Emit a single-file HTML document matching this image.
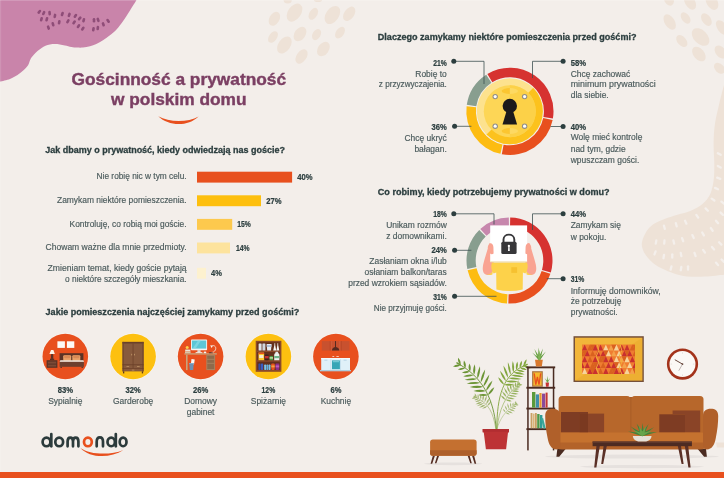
<!DOCTYPE html>
<html lang="pl"><head><meta charset="utf-8"><title>Gościnność a prywatność w polskim domu</title>
<style>
html,body{margin:0;padding:0;background:#f3eeea;}
body{width:724px;height:478px;overflow:hidden;font-family:"Liberation Sans",sans-serif;}
svg{display:block;position:absolute;left:0;top:0;will-change:transform;}
text{font-family:"Liberation Sans",sans-serif;}
.h{font-weight:700;fill:#2c3e3f;font-size:9px;stroke:#2c3e3f;stroke-width:.3px;}
.b{fill:#4b5b5c;font-size:8.2px;stroke:#4b5b5c;stroke-width:.16px;}
.p{font-weight:700;fill:#2c3e3f;font-size:8.5px;stroke:#2c3e3f;stroke-width:.22px;}
.t{font-weight:700;fill:#7b3f63;font-size:16.4px;stroke:#7b3f63;stroke-width:.4px;}
</style></head><body>
<svg width="724" height="478" viewBox="0 0 724 478">
<rect width="724" height="478" fill="#f3eeea"/>

<!-- decor -->
<path d="M136.5,0 C135.4,1.8 132.3,6.9 130,10.5 C127.7,14.1 125.0,18.3 122.8,21.5 C120.5,24.7 118.7,27.1 116.5,29.5 C114.3,31.9 111.8,33.8 109.6,35.6 C107.3,37.4 105.2,38.8 103,40.2 C100.8,41.6 98.5,42.9 96.3,43.9 C94.1,44.9 92.2,45.6 90,46.2 C87.8,46.8 85.2,47.4 83,47.6 C80.8,47.8 78.9,47.7 77,47.6 C75.1,47.5 73.4,47.3 71.4,46.9 C69.4,46.5 66.9,45.8 65,45.4 C63.1,45.0 61.5,44.6 59.8,44.4 C58.1,44.2 56.6,44.0 55,44 C53.4,44.0 51.5,44.1 49.9,44.4 C48.3,44.7 46.9,45.2 45.5,45.8 C44.1,46.4 42.9,47.1 41.6,48 C40.3,48.9 38.8,49.9 37.5,51 C36.2,52.1 35.1,53.2 34,54.5 C32.9,55.8 31.7,57.0 30.7,58.8 C29.7,60.5 29.3,63.1 28.2,65 C27.1,66.9 25.6,68.3 23.8,70 C22.0,71.7 19.8,73.5 17.5,75 C15.2,76.5 12.9,77.8 10,78.9 C7.1,80.0 1.7,81.1 0,81.6 L0,0 Z" fill="#c984aa"/>
<g fill="#8f4d78">
<rect x="38.0" y="9.5" width="2.6" height="4.6" rx="1.3" transform="rotate(40 39.3 11.8)"/>
<rect x="42.4" y="10.8" width="2.6" height="4.6" rx="1.3" transform="rotate(25 43.7 13.1)"/>
<rect x="48.3" y="10.8" width="2.6" height="4.6" rx="1.3" transform="rotate(-5 49.6 13.1)"/>
<rect x="53.6" y="13.6" width="2.6" height="4.6" rx="1.3" transform="rotate(10 54.9 15.9)"/>
<rect x="61.0" y="11.7" width="2.6" height="4.6" rx="1.3" transform="rotate(20 62.3 14)"/>
<rect x="67.9" y="12.6" width="2.6" height="4.6" rx="1.3" transform="rotate(20 69.2 14.9)"/>
<rect x="74.1" y="13.6" width="2.6" height="4.6" rx="1.3" transform="rotate(35 75.4 15.9)"/>
<rect x="78.4" y="16.1" width="2.6" height="4.6" rx="1.3" transform="rotate(40 79.7 18.4)"/>
<rect x="82.4" y="17.9" width="2.6" height="4.6" rx="1.3" transform="rotate(15 83.7 20.2)"/>
<rect x="40.1" y="17.0" width="2.6" height="4.6" rx="1.3" transform="rotate(15 41.4 19.3)"/>
<rect x="45.5" y="17.0" width="2.6" height="4.6" rx="1.3" transform="rotate(15 46.8 19.3)"/>
<rect x="51.7" y="22.0" width="2.6" height="4.6" rx="1.3" transform="rotate(-15 53 24.3)"/>
<rect x="47.1" y="25.3" width="2.6" height="4.6" rx="1.3" transform="rotate(-20 48.4 27.6)"/>
<rect x="57.9" y="19.9" width="2.6" height="4.6" rx="1.3" transform="rotate(10 59.2 22.2)"/>
<rect x="66.6" y="18.9" width="2.6" height="4.6" rx="1.3" transform="rotate(30 67.9 21.2)"/>
<rect x="72.8" y="20.1" width="2.6" height="4.6" rx="1.3" transform="rotate(35 74.1 22.4)"/>
<rect x="77.2" y="23.8" width="2.6" height="4.6" rx="1.3" transform="rotate(35 78.5 26.1)"/>
<rect x="81.5" y="26.3" width="2.6" height="4.6" rx="1.3" transform="rotate(35 82.8 28.6)"/>
<rect x="92.7" y="17.9" width="2.6" height="4.6" rx="1.3" transform="rotate(0 94 20.2)"/>
<rect x="96.8" y="17.6" width="2.6" height="4.6" rx="1.3" transform="rotate(-20 98.1 19.9)"/>
<rect x="102.0" y="22.0" width="2.6" height="4.6" rx="1.3" transform="rotate(-20 103.3 24.3)"/>
<rect x="106.8" y="18.6" width="2.6" height="4.6" rx="1.3" transform="rotate(-35 108.1 20.9)"/>
<rect x="92.1" y="26.9" width="2.6" height="4.6" rx="1.3" transform="rotate(10 93.4 29.2)"/>
<rect x="96.5" y="25.7" width="2.6" height="4.6" rx="1.3" transform="rotate(5 97.8 28)"/>
</g>
<g fill="#eee2d7">
<ellipse cx="274.4" cy="18.8" rx="5" ry="7.5" transform="rotate(30 274.4 18.8)"/>
<ellipse cx="294.5" cy="12.6" rx="6.5" ry="10" transform="rotate(35 294.5 12.6)"/>
<ellipse cx="313.3" cy="13.8" rx="4" ry="6.5" transform="rotate(30 313.3 13.8)"/>
<ellipse cx="332.4" cy="15" rx="6.5" ry="10" transform="rotate(35 332.4 15)"/>
<ellipse cx="349.2" cy="13.8" rx="5" ry="8" transform="rotate(35 349.2 13.8)"/>
<ellipse cx="273" cy="37" rx="4" ry="6.5" transform="rotate(35 273 37)"/>
<ellipse cx="284.4" cy="45" rx="6" ry="9.5" transform="rotate(35 284.4 45)"/>
<ellipse cx="300" cy="34" rx="5.5" ry="8" transform="rotate(35 300 34)"/>
<ellipse cx="316.6" cy="34.6" rx="4" ry="6" transform="rotate(30 316.6 34.6)"/>
<ellipse cx="340" cy="32.6" rx="4" ry="6.5" transform="rotate(35 340 32.6)"/>
<ellipse cx="323.4" cy="49" rx="5.5" ry="8" transform="rotate(35 323.4 49)"/>
<ellipse cx="301.5" cy="56.5" rx="5" ry="8" transform="rotate(35 301.5 56.5)"/>
<ellipse cx="287.7" cy="0.5" rx="4" ry="3" transform="rotate(0 287.7 0.5)"/>
<ellipse cx="318" cy="0" rx="4" ry="2" transform="rotate(0 318 0)"/>
<ellipse cx="669" cy="0" rx="4.5" ry="6" transform="rotate(-30 669 0)"/>
<ellipse cx="690" cy="2" rx="5" ry="8.5" transform="rotate(-30 690 2)"/>
<ellipse cx="712" cy="2" rx="5.5" ry="8.5" transform="rotate(-30 712 2)"/>
<ellipse cx="669.7" cy="22" rx="5" ry="8.6" transform="rotate(-32 669.7 22)"/>
<ellipse cx="685.6" cy="18" rx="4" ry="6.4" transform="rotate(-35 685.6 18)"/>
<ellipse cx="706.4" cy="19.6" rx="4.4" ry="7" transform="rotate(-35 706.4 19.6)"/>
<ellipse cx="722" cy="27.6" rx="4.6" ry="8.4" transform="rotate(-35 722 27.6)"/>
<ellipse cx="681.8" cy="41" rx="4.4" ry="7" transform="rotate(-40 681.8 41)"/>
<ellipse cx="700.6" cy="37" rx="6.8" ry="10.5" transform="rotate(-45 700.6 37)"/>
<ellipse cx="698.9" cy="54" rx="5.4" ry="8.4" transform="rotate(-40 698.9 54)"/>
<ellipse cx="720.7" cy="52" rx="5" ry="7.4" transform="rotate(-40 720.7 52)"/>
<ellipse cx="719.5" cy="68.3" rx="4.4" ry="6.4" transform="rotate(-45 719.5 68.3)"/>
<path d="M724,85 C723.2,88.1 720.8,97.1 719.3,103.5 C717.8,109.9 716.0,116.9 715,123.6 C714.0,130.3 713.7,137.0 713.6,143.7 C713.5,150.4 714.3,157.8 714.3,163.9 C714.3,170.1 714.3,175.6 713.6,180.6 C712.9,185.6 712.1,190.1 710.3,194 C708.4,197.9 705.8,201.2 702.5,204 C699.2,206.8 695.0,209.0 690.8,210.8 C686.6,212.6 681.9,213.4 677.4,214.8 C672.9,216.2 667.7,217.8 664,219.2 C660.3,220.6 657.5,221.7 655,223.2 C652.5,224.7 650.8,226.0 649,228 C647.2,230.0 645.7,232.4 644.5,235 C643.3,237.6 642.0,240.9 641.8,243.5 C641.6,246.1 642.4,248.4 643.2,250.5 C644.0,252.6 644.9,253.9 646.5,256 C648.1,258.1 650.4,260.9 653,263 C655.6,265.1 658.5,266.9 662,268.6 C665.5,270.4 669.8,272.2 674,273.5 C678.2,274.8 681.8,275.9 687,276.4 C692.2,276.9 698.8,276.9 705,276.6 C711.2,276.3 720.8,275.1 724,274.8 Z"/>
<path d="M716,442.5 H724 V447.6 H717 Z"/>
</g>
<g fill="#f4efeb">
<rect x="663.2" y="224.4" width="2.3" height="5.6" rx="1.15" transform="rotate(-15 664.4 227.2)"/>
<rect x="675.1" y="221.9" width="2.3" height="5.6" rx="1.15" transform="rotate(-15 676.3 224.7)"/>
<rect x="684.6" y="219.4" width="2.3" height="5.6" rx="1.15" transform="rotate(-25 685.7 222.2)"/>
<rect x="696.1" y="213.4" width="2.3" height="5.6" rx="1.15" transform="rotate(-35 697.3 216.2)"/>
<rect x="705.6" y="206.8" width="2.3" height="5.6" rx="1.15" transform="rotate(-45 706.7 209.6)"/>
<rect x="711.9" y="196.8" width="2.3" height="5.6" rx="1.15" transform="rotate(-55 713 199.6)"/>
<rect x="715.4" y="185.8" width="2.3" height="5.6" rx="1.15" transform="rotate(-65 716.5 188.6)"/>
<rect x="717.6" y="175.5" width="2.3" height="5.6" rx="1.15" transform="rotate(-70 718.7 178.3)"/>
<rect x="718.1" y="163.9" width="2.3" height="5.6" rx="1.15" transform="rotate(-60 719.3 166.7)"/>
<rect x="718.1" y="151.2" width="2.3" height="5.6" rx="1.15" transform="rotate(-60 719.3 154)"/>
<rect x="654.9" y="239.2" width="2.3" height="5.6" rx="1.15" transform="rotate(10 656 242)"/>
<rect x="663.2" y="239.2" width="2.3" height="5.6" rx="1.15" transform="rotate(5 664.4 242)"/>
<rect x="672.6" y="239.2" width="2.3" height="5.6" rx="1.15" transform="rotate(-15 673.8 242)"/>
<rect x="681.5" y="236.9" width="2.3" height="5.6" rx="1.15" transform="rotate(-20 682.6 239.7)"/>
<rect x="691.9" y="233.8" width="2.3" height="5.6" rx="1.15" transform="rotate(-25 693 236.6)"/>
<rect x="701.9" y="231.2" width="2.3" height="5.6" rx="1.15" transform="rotate(-30 703 234)"/>
<rect x="710.6" y="226.6" width="2.3" height="5.6" rx="1.15" transform="rotate(-35 711.8 229.4)"/>
<rect x="715.9" y="219.2" width="2.3" height="5.6" rx="1.15" transform="rotate(-40 717 222)"/>
<rect x="720.6" y="210.9" width="2.3" height="5.6" rx="1.15" transform="rotate(-45 721.8 213.7)"/>
<rect x="721.6" y="199.9" width="2.3" height="5.6" rx="1.15" transform="rotate(-50 722.7 202.7)"/>
<rect x="653.9" y="250.1" width="2.3" height="5.6" rx="1.15" transform="rotate(20 655 252.9)"/>
<rect x="662.6" y="253.8" width="2.3" height="5.6" rx="1.15" transform="rotate(10 663.8 256.6)"/>
<rect x="671.1" y="253.2" width="2.3" height="5.6" rx="1.15" transform="rotate(0 672.3 256)"/>
<rect x="679.9" y="251.7" width="2.3" height="5.6" rx="1.15" transform="rotate(-10 681 254.5)"/>
<rect x="693.9" y="251.7" width="2.3" height="5.6" rx="1.15" transform="rotate(-20 695 254.5)"/>
<rect x="702.9" y="248.5" width="2.3" height="5.6" rx="1.15" transform="rotate(-35 704 251.3)"/>
<rect x="711.9" y="245.4" width="2.3" height="5.6" rx="1.15" transform="rotate(-40 713 248.2)"/>
<rect x="719.1" y="240.7" width="2.3" height="5.6" rx="1.15" transform="rotate(-45 720.2 243.5)"/>
<rect x="669.9" y="265.2" width="2.3" height="5.6" rx="1.15" transform="rotate(15 671 268)"/>
<rect x="679.9" y="265.8" width="2.3" height="5.6" rx="1.15" transform="rotate(10 681 268.6)"/>
<rect x="686.9" y="265.2" width="2.3" height="5.6" rx="1.15" transform="rotate(0 688 268)"/>
<rect x="715.9" y="261.1" width="2.3" height="5.6" rx="1.15" transform="rotate(-40 717 263.9)"/>
<rect x="721.6" y="257.9" width="2.3" height="5.6" rx="1.15" transform="rotate(-45 722.7 260.7)"/>
</g>
<rect x="0" y="0" width="724" height="0.9" fill="#ffffff" opacity=".2"/><rect x="0" y="0" width="1.2" height="478" fill="#ffffff" opacity=".12"/>
<rect x="0" y="472" width="724" height="6" fill="#e8501e"/>
<!-- title -->
<text x="178.8" y="84.6" class="t" text-anchor="middle" textLength="214.5" lengthAdjust="spacingAndGlyphs">Gościnność a prywatność</text>
<text x="178.8" y="104.6" class="t" text-anchor="middle" textLength="135.5" lengthAdjust="spacingAndGlyphs">w polskim domu</text>
<path d="M158.2,116.2 C169,122.6 188,122.6 198.6,116.4 C188,126.6 169,126.6 158.2,116.2 Z" fill="#e8501e"/>
<!-- bar chart -->
<text x="45.3" y="152.8" class="h" text-anchor="start" textLength="239.6" lengthAdjust="spacingAndGlyphs">Jak dbamy o prywatność, kiedy odwiedzają nas goście?</text>
<rect x="197" y="171.7" width="95.1" height="10.9" fill="#e8501e"/>
<text x="297.3" y="180.0" class="p" text-anchor="start" textLength="15.3" lengthAdjust="spacingAndGlyphs">40%</text>
<rect x="197" y="195.3" width="64.0" height="10.9" fill="#fdbf0e"/>
<text x="266.2" y="203.60000000000002" class="p" text-anchor="start" textLength="15.3" lengthAdjust="spacingAndGlyphs">27%</text>
<rect x="197" y="218.9" width="35.2" height="10.9" fill="#fdc94d"/>
<text x="237.2" y="227.20000000000002" class="p" text-anchor="start" textLength="13.6" lengthAdjust="spacingAndGlyphs">15%</text>
<rect x="197" y="242.5" width="33.0" height="10.9" fill="#fde39d"/>
<text x="236" y="250.8" class="p" text-anchor="start" textLength="13.6" lengthAdjust="spacingAndGlyphs">14%</text>
<rect x="197" y="267.8" width="9.0" height="10.9" fill="#fdf1cf"/>
<text x="211" y="276.1" class="p" text-anchor="start" textLength="10.9" lengthAdjust="spacingAndGlyphs">4%</text>
<text x="186.6" y="179.3" class="b" text-anchor="end" textLength="90" lengthAdjust="spacingAndGlyphs">Nie robię nic w tym celu.</text>
<text x="186.6" y="202.9" class="b" text-anchor="end" textLength="129.6" lengthAdjust="spacingAndGlyphs">Zamykam niektóre pomieszczenia.</text>
<text x="186.6" y="226.5" class="b" text-anchor="end" textLength="117" lengthAdjust="spacingAndGlyphs">Kontroluję, co robią moi goście.</text>
<text x="186.6" y="250.1" class="b" text-anchor="end" textLength="141" lengthAdjust="spacingAndGlyphs">Chowam ważne dla mnie przedmioty.</text>
<text x="186.6" y="270.9" class="b" text-anchor="end" textLength="139" lengthAdjust="spacingAndGlyphs">Zmieniam temat, kiedy goście pytają</text>
<text x="186.6" y="281.5" class="b" text-anchor="end" textLength="121.5" lengthAdjust="spacingAndGlyphs">o niektóre szczegóły mieszkania.</text>
<!-- rooms -->
<text x="45.6" y="315.2" class="h" text-anchor="start" textLength="253.7" lengthAdjust="spacingAndGlyphs">Jakie pomieszczenia najczęściej zamykamy przed gośćmi?</text>
<circle cx="65.3" cy="356.5" r="23.4" fill="#f8f5f2"/>
<circle cx="65.3" cy="356.5" r="22.8" fill="#e8501e"/>
<circle cx="133.1" cy="356.5" r="23.4" fill="#f8f5f2"/>
<circle cx="133.1" cy="356.5" r="22.8" fill="#fdc010"/>
<circle cx="200.6" cy="356.5" r="23.4" fill="#f8f5f2"/>
<circle cx="200.6" cy="356.5" r="22.8" fill="#e8501e"/>
<circle cx="268.4" cy="356.5" r="23.4" fill="#f8f5f2"/>
<circle cx="268.4" cy="356.5" r="22.8" fill="#fdc010"/>
<circle cx="335.9" cy="356.5" r="23.4" fill="#f8f5f2"/>
<circle cx="335.9" cy="356.5" r="22.8" fill="#e8501e"/>
<g>
<rect x="57.4" y="341.3" width="7.5" height="6.6" fill="#fdfaf6"/><rect x="66.9" y="341.3" width="7.4" height="6.6" fill="#fdfaf6"/>
<path d="M51,349.9 H53.4 L54.8,354 H49.4 Z" fill="#fdf3e6"/><rect x="50.9" y="354" width="2.4" height="5" rx="1" fill="#5a3326"/><rect x="50" y="358.6" width="4.2" height="1.6" fill="#5a3326"/>
<rect x="46.6" y="360.2" width="10.8" height="7.6" fill="#5a3326"/><rect x="47.8" y="361.6" width="8.4" height="2" fill="#7d4a35"/><rect x="47.8" y="364.6" width="8.4" height="2" fill="#7d4a35"/>
<rect x="59.6" y="353.2" width="23.8" height="8" fill="#5a3326"/>
<rect x="63.2" y="355.2" width="8" height="5.5" rx="1" fill="#e9a268"/><rect x="72.3" y="355.2" width="8" height="5.5" rx="1" fill="#e9a268"/>
<rect x="64.2" y="355.2" width="6" height="3" rx="1" fill="#d98a55"/><rect x="73.3" y="355.2" width="6" height="3" rx="1" fill="#d98a55"/>
<rect x="59.8" y="360.2" width="24.1" height="2.2" rx="1" fill="#f6ebe0"/>
<rect x="59.6" y="361.8" width="24.3" height="5" fill="#6d3f2e"/><rect x="60.4" y="366.8" width="1.6" height="1.1" fill="#5a3326"/><rect x="81.5" y="366.8" width="1.6" height="1.1" fill="#5a3326"/>
</g>
<g>
<rect x="122.5" y="341.9" width="21.1" height="29.5" fill="#875a3d"/>
<rect x="122.5" y="341.9" width="21.1" height="1.6" fill="#6a4029"/>
<rect x="122.5" y="341.9" width="1.2" height="29.5" fill="#70462e"/><rect x="142.4" y="341.9" width="1.2" height="29.5" fill="#70462e"/>
<rect x="132.7" y="343.5" width="0.7" height="21.3" fill="#6a4029"/>
<rect x="122.5" y="364.4" width="21.1" height="0.8" fill="#6a4029"/><rect x="122.5" y="368" width="21.1" height="0.7" fill="#6a4029"/><rect x="132.7" y="364.8" width="0.7" height="3.4" fill="#6a4029"/>
<rect x="131.3" y="353.8" width="0.8" height="1.6" fill="#c59a6b"/><rect x="134" y="353.8" width="0.8" height="1.6" fill="#c59a6b"/>
<rect x="126.5" y="366.2" width="2.6" height="0.7" fill="#c59a6b"/><rect x="137" y="366.2" width="2.6" height="0.7" fill="#c59a6b"/><rect x="131.8" y="369.7" width="2.6" height="0.7" fill="#c59a6b"/>
<rect x="123" y="371.4" width="1.3" height="2" fill="#5d3622"/><rect x="141.8" y="371.4" width="1.3" height="2" fill="#5d3622"/>
</g>
<g>
<rect x="191" y="339.6" width="16.1" height="10.6" rx="0.8" fill="#f4f4f2"/><rect x="191.9" y="340.5" width="14.3" height="8.1" fill="#5cc6d6"/>
<path d="M193,348 L198,340.5 H201 L196,348 Z" fill="#8adbe6" opacity=".7"/>
<rect x="197.4" y="350.2" width="3.2" height="2.2" fill="#e2e2e0"/><rect x="195.6" y="352.2" width="6.8" height="1" fill="#f4f4f2"/>
<rect x="184.4" y="353.2" width="32.4" height="1.4" fill="#c9a27a"/>
<rect x="186" y="354.6" width="1.6" height="15.5" fill="#c9a27a"/>
<rect x="206.3" y="354.6" width="8.8" height="15.5" fill="#a8825f"/>
<rect x="207.3" y="355.8" width="6.8" height="3" fill="#8e6a4b"/><rect x="207.3" y="359.8" width="6.8" height="3" fill="#8e6a4b"/><rect x="207.3" y="363.8" width="6.8" height="5.2" fill="#8e6a4b"/>
<rect x="185.2" y="349.6" width="5.2" height="1.8" fill="#f0e6da"/><rect x="185" y="351.4" width="5.6" height="1.8" fill="#d9c4a8"/><circle cx="187.2" cy="347.6" r="1.5" fill="#fdd34a"/><rect x="186.5" y="348.6" width="1.4" height="1.2" fill="#c9a27a"/>
<path d="M211.2,352.6 C217.5,352 217,344 211.4,345.8" fill="none" stroke="#f6efe8" stroke-width="0.8"/><path d="M210.2,345 L212.8,346.2 L211.4,348 Z" fill="#f6efe8"/><rect x="208.8" y="352.2" width="4" height="1" rx=".5" fill="#5a3326"/>
<ellipse cx="205" cy="352.4" rx="1.4" ry=".8" fill="#f4f4f2"/>
<rect x="191.2" y="359.2" width="3.2" height="5" fill="#fdfaf6" transform="rotate(8 192.8 361.5)"/>
<path d="M189.3,363.4 H193.7 L193.2,370.1 H189.8 Z" fill="#6d92b5"/><rect x="189.1" y="363" width="4.8" height="1" fill="#89abc9"/>
</g>
<g>
<rect x="255.7" y="340.8" width="25.7" height="31" fill="#8b4a2a"/>
<rect x="257.2" y="342.3" width="22.7" height="8.2" fill="#63301c"/><rect x="257.2" y="352" width="22.7" height="8.2" fill="#63301c"/><rect x="257.2" y="361.7" width="22.7" height="8.2" fill="#63301c"/>
<rect x="258.6" y="343.4" width="3" height="7.1" rx=".5" fill="#dfe4ea"/><rect x="262.4" y="343.4" width="3" height="7.1" rx=".5" fill="#cfd6de"/>
<path d="M266.6,344 H271.6 L271,350.5 H267.2 Z" fill="#e8ecf1"/><rect x="266.6" y="345.2" width="5" height="1.6" fill="#9fb4d0"/>
<path d="M273.2,350.5 L274.4,345 V343.2 H275.2 V345 L276.2,350.5 Z" fill="#f6f6f4"/><path d="M276.4,350.5 L277.4,345 V343.2 H278.2 V345 L279.3,350.5 Z" fill="#f6f6f4"/>
<rect x="258.5" y="352.6" width="5.6" height="7.6" fill="#fdc62c"/><rect x="259.2" y="355" width="4.2" height="3" fill="#f5ead2"/><rect x="258.5" y="352.6" width="5.6" height="1.4" fill="#e8501e"/>
<rect x="265" y="354.4" width="3.6" height="5.8" rx=".6" fill="#3b2320"/><rect x="265" y="356" width="3.6" height="2.4" fill="#c8312f"/>
<rect x="269.6" y="356" width="3.4" height="4.2" rx=".5" fill="#4c9a46"/><rect x="269.6" y="357.2" width="3.4" height="1.4" fill="#cfe2b0"/>
<path d="M274.2,360.2 V355 C274.2,352 279.4,352 279.4,355 V360.2 Z" fill="#eef2ee"/><rect x="274.2" y="356" width="5.2" height="2.2" fill="#6fb68a"/><rect x="275.4" y="351.8" width="2.8" height="1.4" rx=".5" fill="#dfe4ea"/>
<rect x="258.4" y="363.4" width="2.2" height="6.5" rx=".7" fill="#2f4fa8"/><rect x="261" y="363.4" width="2.2" height="6.5" rx=".7" fill="#3a5cc0"/>
<rect x="264.2" y="364.6" width="1.9" height="5.3" rx=".6" fill="#7cc4ea"/><rect x="266.4" y="364.6" width="1.9" height="5.3" rx=".6" fill="#5eb0e0"/><rect x="268.6" y="364.6" width="1.9" height="5.3" rx=".6" fill="#7cc4ea"/>
<rect x="271.3" y="363.4" width="3.4" height="6.5" rx=".8" fill="#e8501e"/><rect x="271.3" y="365.4" width="3.4" height="2" fill="#f5a040"/>
<rect x="275.6" y="363.4" width="3.6" height="6.5" rx=".8" fill="#8b2f8a"/><rect x="275.6" y="365.4" width="3.6" height="2" fill="#c05cb8"/>
</g>
<g>
<rect x="321.8" y="341.1" width="27.7" height="9.5" fill="#c8512f"/>
<rect x="329.8" y="341.1" width=".5" height="9.5" fill="#b24424"/><rect x="341" y="341.1" width=".5" height="9.5" fill="#b24424"/><rect x="331.6" y="341.1" width=".4" height="9.5" fill="#d66a48"/><rect x="339.4" y="341.1" width=".4" height="9.5" fill="#d66a48"/>
<rect x="335" y="341.1" width="1" height="6.2" fill="#552a20"/><path d="M332,350.6 C332,348.4 333.6,347 335.5,347 C337.4,347 339.3,348.4 339.3,350.6 Z" fill="#552a20"/>
<rect x="332.4" y="356.2" width="1.8" height=".7" fill="#fdfaf6"/><rect x="336.4" y="356.2" width="2.4" height=".7" fill="#fdfaf6"/>
<rect x="321.2" y="358" width="28.8" height="12.2" fill="#dff0f8"/><rect x="321.2" y="358" width="28.8" height="1.3" fill="#f4fafd"/>
<rect x="330.6" y="359.3" width=".6" height="10.9" fill="#b8d6e6"/><rect x="340.4" y="359.3" width=".6" height="10.9" fill="#b8d6e6"/>
<rect x="332" y="360.4" width="7.9" height="8.8" fill="#36a6b6"/><rect x="332.8" y="361.2" width="6.3" height="1" fill="#7fd0da"/>
<rect x="324.4" y="359.8" width="3" height=".6" fill="#9cc0d6"/><rect x="343.6" y="359.8" width="3" height=".6" fill="#9cc0d6"/>
<rect x="320" y="370.1" width="31" height="1.2" fill="#a8d4ea"/>
</g>
<text x="65.3" y="393" class="p" text-anchor="middle" textLength="15.3" lengthAdjust="spacingAndGlyphs">83%</text>
<text x="65.3" y="404" class="b" text-anchor="middle" textLength="34.3" lengthAdjust="spacingAndGlyphs">Sypialnię</text>
<text x="133.1" y="393" class="p" text-anchor="middle" textLength="15.3" lengthAdjust="spacingAndGlyphs">32%</text>
<text x="133.1" y="404" class="b" text-anchor="middle" textLength="40.4" lengthAdjust="spacingAndGlyphs">Garderobę</text>
<text x="200.6" y="393" class="p" text-anchor="middle" textLength="15.3" lengthAdjust="spacingAndGlyphs">26%</text>
<text x="200.6" y="404" class="b" text-anchor="middle" textLength="32.9" lengthAdjust="spacingAndGlyphs">Domowy</text>
<text x="268.4" y="393" class="p" text-anchor="middle" textLength="13.6" lengthAdjust="spacingAndGlyphs">12%</text>
<text x="268.4" y="404" class="b" text-anchor="middle" textLength="35.2" lengthAdjust="spacingAndGlyphs">Spiżarnię</text>
<text x="335.9" y="393" class="p" text-anchor="middle" textLength="10.9" lengthAdjust="spacingAndGlyphs">6%</text>
<text x="335.9" y="404" class="b" text-anchor="middle" textLength="30.5" lengthAdjust="spacingAndGlyphs">Kuchnię</text>
<text x="200.6" y="415" class="b" text-anchor="middle" textLength="27.7" lengthAdjust="spacingAndGlyphs">gabinet</text>
<!-- donut 1 -->
<path d="M487.38,73.97 A43.6,43.6 0 0 1 552.89,118.57 L543.42,116.97 A34,34 0 0 0 492.34,82.19 Z" fill="#d63230"/>
<path d="M552.64,119.92 A43.6,43.6 0 0 1 501.80,154.14 L503.59,144.71 A34,34 0 0 0 543.23,118.02 Z" fill="#e8501e"/>
<path d="M500.46,153.87 A43.6,43.6 0 0 1 466.60,106.21 L476.13,107.33 A34,34 0 0 0 502.54,144.49 Z" fill="#fdbc11"/>
<path d="M466.78,104.86 A43.6,43.6 0 0 1 486.22,74.69 L491.43,82.75 A34,34 0 0 0 476.27,106.27 Z" fill="#889e8f"/>
<circle cx="509.8" cy="111.2" r="33" fill="#fde28e"/>
<clipPath id="cd"><circle cx="509.8" cy="111.2" r="33"/></clipPath>
<path d="M533.8,87.2 L549.8,87.2 V151.2 H485.8 V135.2 Z" fill="#fcc21d" clip-path="url(#cd)"/>
<circle cx="509.8" cy="111.2" r="26" fill="#fdd656"/>
<path d="M509.8,85.2 A26,26 0 0 1 509.8,137.2 Z" fill="#fcd148"/>
<ellipse cx="509.8" cy="91.0" rx="8.2" ry="3" fill="#fdd962"/>
<path d="M509.8,88.0 A8.2,3 0 0 0 509.8,94.0 Z" fill="#fcc630"/>
<ellipse cx="509.8" cy="131.0" rx="8.2" ry="3" fill="#fdd962"/>
<path d="M509.8,128.0 A8.2,3 0 0 0 509.8,134.0 Z" fill="#fcc630"/>
<circle cx="495.2" cy="96.60000000000001" r="2.7" fill="#918e88"/><circle cx="495.2" cy="96.60000000000001" r="1.6" fill="#fdfdfb"/>
<circle cx="524.6" cy="96.60000000000001" r="2.7" fill="#918e88"/><circle cx="524.6" cy="96.60000000000001" r="1.6" fill="#fdfdfb"/>
<circle cx="495.2" cy="126.2" r="2.7" fill="#918e88"/><circle cx="495.2" cy="126.2" r="1.6" fill="#fdfdfb"/>
<circle cx="524.6" cy="126.2" r="2.7" fill="#918e88"/><circle cx="524.6" cy="126.2" r="1.6" fill="#fdfdfb"/>
<circle cx="509.8" cy="106.0" r="7.2" fill="#1c1a1b"/><path d="M506.8,110.2 H512.8 L517.1,124.60000000000001 H502.5 Z" fill="#1c1a1b"/>
<path d="M453.8,61.3 L484,61.3 L484,84" fill="none" stroke="#3e5152" stroke-width="0.8"/>
<circle cx="453.8" cy="61.3" r="2.5" fill="#2c3e3f"/>
<path d="M563.1,61.3 L532.5,61.3 L532.5,78" fill="none" stroke="#3e5152" stroke-width="0.8"/>
<circle cx="563.1" cy="61.3" r="2.5" fill="#2c3e3f"/>
<path d="M454.6,126.3 L471.4,126.3" fill="none" stroke="#3e5152" stroke-width="0.8"/>
<circle cx="454.6" cy="126.3" r="2.5" fill="#2c3e3f"/>
<path d="M563.1,126.5 L550.5,126.5" fill="none" stroke="#3e5152" stroke-width="0.8"/>
<circle cx="563.1" cy="126.5" r="2.5" fill="#2c3e3f"/>
<text x="377.8" y="40" class="h" text-anchor="start" textLength="258.7" lengthAdjust="spacingAndGlyphs">Dlaczego zamykamy niektóre pomieszczenia przed gośćmi?</text>
<text x="446.8" y="65.5" class="p" text-anchor="end" textLength="13.6" lengthAdjust="spacingAndGlyphs">21%</text>
<text x="446.8" y="76.5" class="b" text-anchor="end" textLength="31.5" lengthAdjust="spacingAndGlyphs">Robię to</text>
<text x="446.8" y="87" class="b" text-anchor="end" textLength="68" lengthAdjust="spacingAndGlyphs">z przyzwyczajenia.</text>
<text x="446.8" y="130" class="p" text-anchor="end" textLength="15.3" lengthAdjust="spacingAndGlyphs">36%</text>
<text x="446.8" y="140.7" class="b" text-anchor="end" textLength="42.3" lengthAdjust="spacingAndGlyphs">Chcę ukryć</text>
<text x="446.8" y="151.6" class="b" text-anchor="end" textLength="32.4" lengthAdjust="spacingAndGlyphs">bałagan.</text>
<text x="570.7" y="65.5" class="p" text-anchor="start" textLength="15.3" lengthAdjust="spacingAndGlyphs">58%</text>
<text x="570.7" y="76.5" class="b" text-anchor="start" textLength="59.6" lengthAdjust="spacingAndGlyphs">Chcę zachować</text>
<text x="570.7" y="87" class="b" text-anchor="start" textLength="85" lengthAdjust="spacingAndGlyphs">minimum prywatności</text>
<text x="570.7" y="98" class="b" text-anchor="start" textLength="38.0" lengthAdjust="spacingAndGlyphs">dla siebie.</text>
<text x="570.7" y="130" class="p" text-anchor="start" textLength="15.3" lengthAdjust="spacingAndGlyphs">40%</text>
<text x="570.7" y="140.2" class="b" text-anchor="start" textLength="71.7" lengthAdjust="spacingAndGlyphs">Wolę mieć kontrolę</text>
<text x="570.7" y="151.6" class="b" text-anchor="start" textLength="55.0" lengthAdjust="spacingAndGlyphs">nad tym, gdzie</text>
<text x="570.7" y="162.6" class="b" text-anchor="start" textLength="68.6" lengthAdjust="spacingAndGlyphs">wpuszczam gości.</text>
<!-- donut 2 -->
<path d="M510.18,217.51 A43,43 0 0 1 550.81,272.44 L541.97,269.89 A33.8,33.8 0 0 0 510.03,226.70 Z" fill="#d63230"/>
<path d="M550.41,273.74 A43,43 0 0 1 508.35,303.48 L508.60,294.29 A33.8,33.8 0 0 0 541.66,270.90 Z" fill="#e8501e"/>
<path d="M507.00,303.43 A43,43 0 0 1 467.61,270.22 L476.57,268.14 A33.8,33.8 0 0 0 507.54,294.24 Z" fill="#fdbc11"/>
<path d="M467.33,268.90 A43,43 0 0 1 479.26,229.93 L485.73,236.47 A33.8,33.8 0 0 0 476.35,267.10 Z" fill="#889e8f"/>
<path d="M480.24,228.99 A43,43 0 0 1 508.82,217.51 L508.97,226.70 A33.8,33.8 0 0 0 486.50,235.73 Z" fill="#c787ad"/>
<g>
<path d="M492.2,262.6 C489,262.8 487.6,266 487.3,270 L486.6,274.6 C488,275.4 491,275.2 492.4,274.4 L493.4,268 Z" fill="#fdd24a"/>
<path d="M526.8,262.6 C530,262.8 531.4,266 531.7,270 L532.4,274.6 C531,275.4 528,275.2 526.6,274.4 L525.6,268 Z" fill="#fdd24a"/>
<path d="M489.6,243.4 C488.2,244.6 487.6,246.6 487.8,248.6 C486.6,253 484.4,259 483.2,264.4 C482.4,268.4 482.6,271.6 484.2,273.4 C486.2,275.4 489.6,275 491.4,272.8 C492.8,270.8 493.4,268.6 493.6,266.4 L493.8,250.4 C493.6,247.6 492.6,245 491.6,243.8 C491,243 490.2,243 489.6,243.4 Z" fill="#f9a392"/>
<path d="M529.4,243.4 C530.8,244.6 531.4,246.6 531.2,248.6 C532.4,253 534.6,259 535.8,264.4 C536.6,268.4 536.4,271.6 534.8,273.4 C532.8,275.4 529.4,275 527.6,272.8 C526.2,270.8 525.6,268.6 525.4,266.4 L525.2,250.4 C525.4,247.6 526.4,245 527.4,243.8 C528.0,243 528.8,243 529.4,243.4 Z" fill="#f9a392"/>
<path d="M492,262.4 H527 C528.4,266 527.6,270.6 525.4,273.4 L522.9,272.6 L522.7,289.6 C514,291.6 505,291.6 496.4,289.6 L496.2,272.6 L493.6,273.4 C491.4,270.6 490.6,266 492,262.4 Z" fill="#fdd24a"/>
<rect x="511.3" y="267.2" width="5.8" height="5.7" fill="#f6c130"/>
<rect x="490.2" y="225.4" width="36.9" height="36.6" fill="#ffffff"/>
<rect x="490.2" y="261" width="36.9" height="1.6" fill="#ecd9a8" opacity=".6"/>
<path d="M489.4,243.6 C491.4,242.6 493.2,244.6 493.4,247 L493.6,253.4 C492.4,254.6 490.6,254.4 489.8,253 Z M529.6,243.6 C527.6,242.6 525.8,244.6 525.6,247 L525.4,253.4 C526.6,254.6 528.4,254.4 529.2,253 Z" fill="#f9a392"/>
<path d="M503.5,242.4 V239.6 C503.5,233 514.3,233 514.3,239.6 V242.4" fill="none" stroke="#37373a" stroke-width="1.9"/>
<rect x="501.3" y="241.7" width="15.3" height="12.3" rx="1.6" fill="#37373a"/>
<circle cx="508.9" cy="245.9" r="1.15" fill="#fff"/><path d="M508.3,246 H509.5 L509.8,251 H508 Z" fill="#fff"/>
</g>
<path d="M453.8,213.8 L494,213.8 L494,224.5" fill="none" stroke="#3e5152" stroke-width="0.8"/>
<circle cx="453.8" cy="213.8" r="2.5" fill="#2c3e3f"/>
<path d="M454.6,250.3 L471.4,250.3" fill="none" stroke="#3e5152" stroke-width="0.8"/>
<circle cx="454.6" cy="250.3" r="2.5" fill="#2c3e3f"/>
<path d="M454.6,296.3 L496.5,296.3" fill="none" stroke="#3e5152" stroke-width="0.8"/>
<circle cx="454.6" cy="296.3" r="2.5" fill="#2c3e3f"/>
<path d="M563.1,213.8 L532.5,213.8 L532.5,230" fill="none" stroke="#3e5152" stroke-width="0.8"/>
<circle cx="563.1" cy="213.8" r="2.5" fill="#2c3e3f"/>
<path d="M563.1,278.7 L546.8,278.7" fill="none" stroke="#3e5152" stroke-width="0.8"/>
<circle cx="563.1" cy="278.7" r="2.5" fill="#2c3e3f"/>
<text x="377.8" y="195" class="h" text-anchor="start" textLength="231.8" lengthAdjust="spacingAndGlyphs">Co robimy, kiedy potrzebujemy prywatności w domu?</text>
<text x="446.8" y="216.8" class="p" text-anchor="end" textLength="13.6" lengthAdjust="spacingAndGlyphs">18%</text>
<text x="446.8" y="228.3" class="b" text-anchor="end" textLength="60.6" lengthAdjust="spacingAndGlyphs">Unikam rozmów</text>
<text x="446.8" y="239.2" class="b" text-anchor="end" textLength="60.6" lengthAdjust="spacingAndGlyphs">z domownikami.</text>
<text x="446.8" y="253.4" class="p" text-anchor="end" textLength="15.3" lengthAdjust="spacingAndGlyphs">24%</text>
<text x="446.8" y="264.3" class="b" text-anchor="end" textLength="77.5" lengthAdjust="spacingAndGlyphs">Zasłaniam okna i/lub</text>
<text x="446.8" y="275.3" class="b" text-anchor="end" textLength="82.2" lengthAdjust="spacingAndGlyphs">osłaniam balkon/taras</text>
<text x="446.8" y="285.8" class="b" text-anchor="end" textLength="98.6" lengthAdjust="spacingAndGlyphs">przed wzrokiem sąsiadów.</text>
<text x="446.8" y="299.8" class="p" text-anchor="end" textLength="13.6" lengthAdjust="spacingAndGlyphs">31%</text>
<text x="446.8" y="310.8" class="b" text-anchor="end" textLength="73" lengthAdjust="spacingAndGlyphs">Nie przyjmuję gości.</text>
<text x="570.7" y="216.8" class="p" text-anchor="start" textLength="15.3" lengthAdjust="spacingAndGlyphs">44%</text>
<text x="570.7" y="228.3" class="b" text-anchor="start" textLength="50.2" lengthAdjust="spacingAndGlyphs">Zamykam się</text>
<text x="570.7" y="239.8" class="b" text-anchor="start" textLength="35.7" lengthAdjust="spacingAndGlyphs">w pokoju.</text>
<text x="570.7" y="282.3" class="p" text-anchor="start" textLength="13.6" lengthAdjust="spacingAndGlyphs">31%</text>
<text x="570.7" y="293.5" class="b" text-anchor="start" textLength="90" lengthAdjust="spacingAndGlyphs">Informuję domowników,</text>
<text x="570.7" y="303.5" class="b" text-anchor="start" textLength="50.7" lengthAdjust="spacingAndGlyphs">że potrzebuję</text>
<text x="570.7" y="314.5" class="b" text-anchor="start" textLength="47.0" lengthAdjust="spacingAndGlyphs">prywatności.</text>
<!-- living room -->
<ellipse cx="453.2" cy="463.8" rx="29" ry="1.4" fill="#e6e1de"/>
<ellipse cx="632" cy="456.6" rx="87" ry="2" fill="#e6e1de"/>
<ellipse cx="642" cy="466.6" rx="62" ry="1.6" fill="#e6e1de"/>
<g>
<path d="M432.9,455.4 L435,455.4 L432.2,463.8 L430.6,463.8 Z M437.2,455.4 L439.2,455.4 L436.4,463.2 L434.9,463.2 Z M467.6,455.4 L469.6,455.4 L471.8,463.2 L470.3,463.2 Z M472,455.4 L474.1,455.4 L476.2,463.8 L474.6,463.8 Z" fill="#552d22"/>
<rect x="430.1" y="439.5" width="46.5" height="16.2" rx="2.8" fill="#c47030"/>
<path d="M430.1,450.3 H476.6 V453.4 Q476.6,455.7 474.3,455.7 H432.4 Q430.1,455.7 430.1,453.4 Z" fill="#ae602b"/>
</g>
<g>
<path d="M495.8,428.6 C493,412 489,404 476.5,397.5" fill="none" stroke="#a3b673" stroke-width="0.7" stroke-linecap="round"/>
<path d="M487.5,405.9 Q484.3,405.8 482.1,408.7 Q485.8,408.6 487.5,405.9 Z" fill="#a3b673"/>
<path d="M487.5,405.9 Q490.4,404.8 491.3,401.2 Q487.9,402.8 487.5,405.9 Z" fill="#a3b673"/>
<path d="M486.0,404.4 Q482.2,404.4 479.0,407.7 Q483.6,407.3 486.0,404.4 Z" fill="#a3b673"/>
<path d="M486.0,404.4 Q489.1,402.0 489.7,397.4 Q486.3,400.5 486.0,404.4 Z" fill="#a3b673"/>
<path d="M484.5,402.8 Q480.3,402.9 476.7,406.3 Q481.6,405.8 484.5,402.8 Z" fill="#a3b673"/>
<path d="M484.5,402.8 Q487.1,399.7 487.0,394.7 Q484.1,398.7 484.5,402.8 Z" fill="#a3b673"/>
<path d="M482.8,401.4 Q478.9,401.2 475.5,404.3 Q480.1,404.2 482.8,401.4 Z" fill="#a3b673"/>
<path d="M482.8,401.4 Q484.7,398.1 483.6,393.7 Q481.6,397.7 482.8,401.4 Z" fill="#a3b673"/>
<path d="M480.9,400.1 Q477.8,399.4 475.2,402.0 Q478.8,402.4 480.9,400.1 Z" fill="#a3b673"/>
<path d="M480.9,400.1 Q482.3,397.3 480.5,394.1 Q479.1,397.5 480.9,400.1 Z" fill="#a3b673"/>
<path d="M478.8,398.8 Q476.3,397.8 474.3,400.0 Q477.2,400.9 478.8,398.8 Z" fill="#a3b673"/>
<path d="M478.8,398.8 Q479.8,396.3 477.7,394.2 Q476.7,397.1 478.8,398.8 Z" fill="#a3b673"/>
<path d="M476.5,397.5 Q474.1,396.4 471.9,398.5 Q474.8,399.5 476.5,397.5 Z" fill="#a3b673"/>
<path d="M476.5,397.5 Q477.2,394.9 474.7,393.2 Q474.2,396.2 476.5,397.5 Z" fill="#a3b673"/>
<path d="M476.5,397.5 l-2.3,-1.2" stroke="#a3b673" stroke-width="1.4" stroke-linecap="round"/>
<path d="M497,428.6 C499,410 505,396 517.5,385" fill="none" stroke="#98b360" stroke-width="0.7" stroke-linecap="round"/>
<path d="M505.5,399.7 Q504.5,396.6 500.9,395.2 Q502.3,398.9 505.5,399.7 Z" fill="#98b360"/>
<path d="M505.5,399.7 Q507.9,402.0 511.7,401.3 Q508.7,398.9 505.5,399.7 Z" fill="#98b360"/>
<path d="M506.8,397.4 Q505.9,393.6 501.9,391.0 Q503.3,395.5 506.8,397.4 Z" fill="#98b360"/>
<path d="M506.8,397.4 Q510.1,399.8 514.8,399.1 Q510.7,396.6 506.8,397.4 Z" fill="#98b360"/>
<path d="M508.3,395.2 Q507.7,390.9 503.9,387.4 Q504.9,392.5 508.3,395.2 Z" fill="#98b360"/>
<path d="M508.3,395.2 Q512.0,397.4 517.1,396.7 Q512.6,394.3 508.3,395.2 Z" fill="#98b360"/>
<path d="M509.9,393.0 Q510.0,388.8 506.7,384.9 Q507.0,389.9 509.9,393.0 Z" fill="#98b360"/>
<path d="M509.9,393.0 Q513.6,395.1 518.6,394.1 Q514.0,391.9 509.9,393.0 Z" fill="#98b360"/>
<path d="M511.6,390.9 Q512.4,387.3 509.9,383.6 Q509.3,388.0 511.6,390.9 Z" fill="#98b360"/>
<path d="M511.6,390.9 Q514.9,392.8 519.2,391.5 Q515.1,389.6 511.6,390.9 Z" fill="#98b360"/>
<path d="M513.5,388.9 Q514.8,386.2 512.9,383.2 Q511.6,386.5 513.5,388.9 Z" fill="#98b360"/>
<path d="M513.5,388.9 Q516.0,390.6 519.2,389.1 Q516.1,387.4 513.5,388.9 Z" fill="#98b360"/>
<path d="M515.4,386.9 Q517.1,384.8 515.7,382.0 Q513.9,384.6 515.4,386.9 Z" fill="#98b360"/>
<path d="M515.4,386.9 Q517.7,388.5 520.4,386.9 Q517.6,385.3 515.4,386.9 Z" fill="#98b360"/>
<path d="M517.5,385.0 Q519.5,383.1 518.4,380.1 Q516.3,382.5 517.5,385.0 Z" fill="#98b360"/>
<path d="M517.5,385.0 Q519.8,386.5 522.4,384.7 Q519.6,383.3 517.5,385.0 Z" fill="#98b360"/>
<path d="M517.5,385 l2.0,-1.8" stroke="#98b360" stroke-width="1.4" stroke-linecap="round"/>
<path d="M497,428.6 C500,419 505,411 515,404.5" fill="none" stroke="#a6bb78" stroke-width="0.6" stroke-linecap="round"/>
<path d="M505.6,412.6 Q505.7,410.0 503.0,408.7 Q503.2,411.7 505.6,412.6 Z" fill="#a6bb78"/>
<path d="M505.6,412.6 Q506.8,414.8 509.8,414.6 Q508.1,412.1 505.6,412.6 Z" fill="#a6bb78"/>
<path d="M507.2,410.8 Q507.4,407.7 504.7,405.2 Q504.7,408.9 507.2,410.8 Z" fill="#a6bb78"/>
<path d="M507.2,410.8 Q509.2,413.3 512.9,413.2 Q510.3,410.5 507.2,410.8 Z" fill="#a6bb78"/>
<path d="M508.9,409.2 Q509.7,406.0 507.4,402.9 Q506.8,406.7 508.9,409.2 Z" fill="#a6bb78"/>
<path d="M508.9,409.2 Q511.2,411.5 515.0,411.2 Q512.1,408.7 508.9,409.2 Z" fill="#a6bb78"/>
<path d="M510.8,407.6 Q512.1,405.1 510.5,402.4 Q509.1,405.3 510.8,407.6 Z" fill="#a6bb78"/>
<path d="M510.8,407.6 Q512.7,409.6 515.8,408.9 Q513.4,406.7 510.8,407.6 Z" fill="#a6bb78"/>
<path d="M512.8,406.0 Q514.5,404.6 513.2,402.5 Q511.5,404.2 512.8,406.0 Z" fill="#a6bb78"/>
<path d="M512.8,406.0 Q514.1,407.8 516.3,406.7 Q514.7,404.8 512.8,406.0 Z" fill="#a6bb78"/>
<path d="M515.0,404.5 Q516.9,403.4 516.0,401.1 Q514.0,402.5 515.0,404.5 Z" fill="#a6bb78"/>
<path d="M515.0,404.5 Q516.4,406.2 518.5,404.9 Q516.8,403.2 515.0,404.5 Z" fill="#a6bb78"/>
<path d="M515,404.5 l1.6,-1.1" stroke="#a6bb78" stroke-width="1.4" stroke-linecap="round"/>
<path d="M496.2,428.6 C494.5,408 488,381 460.5,365" fill="none" stroke="#6b9434" stroke-width="0.9" stroke-linecap="round"/>
<path d="M488.0,395.1 Q483.6,392.9 478.0,394.9 Q483.5,397.1 488.0,395.1 Z" fill="#6b9434"/>
<path d="M488.0,395.1 Q492.5,392.9 494.3,387.3 Q489.2,390.3 488.0,395.1 Z" fill="#6b9434"/>
<path d="M485.9,390.9 Q480.3,388.8 473.5,390.9 Q480.3,393.0 485.9,390.9 Z" fill="#6b9434"/>
<path d="M485.9,390.9 Q490.6,387.3 492.5,380.5 Q487.1,385.0 485.9,390.9 Z" fill="#6b9434"/>
<path d="M483.4,386.7 Q477.2,384.8 469.7,387.0 Q477.3,389.0 483.4,386.7 Z" fill="#6b9434"/>
<path d="M483.4,386.7 Q488.0,382.1 489.4,374.4 Q484.2,380.2 483.4,386.7 Z" fill="#6b9434"/>
<path d="M480.6,382.7 Q474.3,380.9 466.7,383.4 Q474.5,385.1 480.6,382.7 Z" fill="#6b9434"/>
<path d="M480.6,382.7 Q484.6,377.4 485.1,369.5 Q480.6,376.1 480.6,382.7 Z" fill="#6b9434"/>
<path d="M477.4,378.8 Q471.5,377.1 464.6,379.8 Q471.8,381.3 477.4,378.8 Z" fill="#6b9434"/>
<path d="M477.4,378.8 Q480.7,373.5 480.0,366.2 Q476.5,372.7 477.4,378.8 Z" fill="#6b9434"/>
<path d="M473.9,375.0 Q468.8,373.5 463.2,376.2 Q469.3,377.7 473.9,375.0 Z" fill="#6b9434"/>
<path d="M473.9,375.0 Q476.3,370.4 474.7,364.3 Q472.1,370.1 473.9,375.0 Z" fill="#6b9434"/>
<path d="M469.9,371.5 Q466.0,369.9 461.9,372.6 Q466.6,374.1 469.9,371.5 Z" fill="#6b9434"/>
<path d="M469.9,371.5 Q471.8,367.8 469.4,363.4 Q467.6,368.0 469.9,371.5 Z" fill="#6b9434"/>
<path d="M465.4,368.1 Q461.6,366.7 457.8,369.5 Q462.4,370.8 465.4,368.1 Z" fill="#6b9434"/>
<path d="M465.4,368.1 Q466.8,364.3 464.0,360.6 Q462.7,365.1 465.4,368.1 Z" fill="#6b9434"/>
<path d="M460.5,365.0 Q456.7,363.7 453.0,366.6 Q457.5,367.8 460.5,365.0 Z" fill="#6b9434"/>
<path d="M460.5,365.0 Q461.4,361.1 458.1,357.7 Q457.4,362.3 460.5,365.0 Z" fill="#6b9434"/>
<path d="M460.5,365 l-3.6,-2.1" stroke="#6b9434" stroke-width="1.4" stroke-linecap="round"/>
<path d="M496.8,428.6 C497,396 503,375 523.5,366" fill="none" stroke="#82a63e" stroke-width="0.9" stroke-linecap="round"/>
<path d="M504.1,384.8 Q503.0,380.2 498.1,377.2 Q499.9,382.6 504.1,384.8 Z" fill="#82a63e"/>
<path d="M504.1,384.8 Q508.5,386.8 513.8,384.8 Q508.5,382.8 504.1,384.8 Z" fill="#82a63e"/>
<path d="M506.0,381.3 Q505.0,375.5 500.0,370.7 Q501.6,377.5 506.0,381.3 Z" fill="#82a63e"/>
<path d="M506.0,381.3 Q511.4,383.5 518.2,381.7 Q511.6,379.5 506.0,381.3 Z" fill="#82a63e"/>
<path d="M508.2,378.0 Q507.9,371.7 503.4,365.5 Q504.2,373.1 508.2,378.0 Z" fill="#82a63e"/>
<path d="M508.2,378.0 Q514.1,380.5 521.6,379.0 Q514.4,376.5 508.2,378.0 Z" fill="#82a63e"/>
<path d="M510.6,375.1 Q511.4,368.9 507.9,362.2 Q507.5,369.7 510.6,375.1 Z" fill="#82a63e"/>
<path d="M510.6,375.1 Q516.3,377.8 523.7,376.7 Q516.8,373.8 510.6,375.1 Z" fill="#82a63e"/>
<path d="M513.4,372.4 Q515.1,367.2 512.8,361.0 Q511.1,367.4 513.4,372.4 Z" fill="#82a63e"/>
<path d="M513.4,372.4 Q518.1,375.2 524.6,374.3 Q518.8,371.3 513.4,372.4 Z" fill="#82a63e"/>
<path d="M516.4,370.0 Q518.9,366.4 517.4,361.5 Q514.9,365.9 516.4,370.0 Z" fill="#82a63e"/>
<path d="M516.4,370.0 Q519.7,372.8 524.8,371.9 Q520.6,368.9 516.4,370.0 Z" fill="#82a63e"/>
<path d="M519.8,367.8 Q522.6,365.2 521.8,360.7 Q518.8,364.1 519.8,367.8 Z" fill="#82a63e"/>
<path d="M519.8,367.8 Q522.5,370.7 526.9,369.9 Q523.6,366.8 519.8,367.8 Z" fill="#82a63e"/>
<path d="M523.5,366.0 Q526.7,363.8 526.6,359.2 Q523.1,362.1 523.5,366.0 Z" fill="#82a63e"/>
<path d="M523.5,366.0 Q526.0,368.9 530.5,368.3 Q527.3,365.2 523.5,366.0 Z" fill="#82a63e"/>
<path d="M523.5,366 l3.7,-1.6" stroke="#82a63e" stroke-width="1.4" stroke-linecap="round"/>
</g>
<path d="M482.7,429 H509 V432.6 H508 L506.1,449.2 H485.9 L483.8,432.6 H482.7 Z" fill="#bd3335"/><rect x="482.7" y="429" width="26.3" height="2.8" fill="#b22d31"/>
<g>
<rect x="527.2" y="367" width="1.5" height="83.4" fill="#4a2b21"/><rect x="552.8" y="367" width="1.5" height="83.4" fill="#4a2b21"/>
<rect x="526.4" y="366.4" width="28.8" height="1.9" fill="#4a2b21"/><rect x="526.4" y="386.8" width="28.8" height="1.9" fill="#4a2b21"/><rect x="526.4" y="407.6" width="28.8" height="1.9" fill="#4a2b21"/><rect x="526.4" y="428.2" width="28.8" height="1.9" fill="#4a2b21"/>
<path d="M535,359.8 H542.8 L541.8,366.4 H536 Z" fill="#d9782c"/>
<path d="M538.9,360.2 L532.2,352.4 L537,356.6 L534.4,349 L538.2,355.2 L538.6,347.4 L539.8,355 L543,348.6 L541,356.4 L545.8,351.6 L540,360.2 Z" fill="#5f9a3c"/><path d="M538.9,360.2 L536,352 L538.6,356 L539.4,350 L540.2,356 L542,352.4 L540,360.2 Z" fill="#7fb356"/>
<rect x="532.1" y="371.2" width="10.7" height="15.6" fill="#a8703e"/><rect x="533.3" y="372.4" width="8.3" height="13.2" fill="#f6b830"/>
<path d="M534.2,373.4 L535.8,384.6 L537.4,377 L539,384.6 L540.7,373.4" fill="none" stroke="#e8501e" stroke-width="1.3"/>
<path d="M545.6,382.6 H549 L548.6,386.8 H546 Z" fill="#c43534"/><path d="M547.3,382.8 L544.6,378 L546.8,380.4 L547.2,375.8 L548,380.4 L550.2,378 L547.7,382.8 Z" fill="#6aa348"/>
<rect x="532" y="392" width="3.4" height="15.6" fill="#5a9a3a"/><rect x="535.8" y="394.4" width="3.2" height="13.2" fill="#3f8fa8"/><rect x="539.4" y="393" width="2.2" height="14.6" fill="#e9962c"/><rect x="542" y="393.6" width="3.2" height="14" fill="#8a4a9a"/><rect x="545.6" y="392.6" width="2" height="15" fill="#c43534"/>
<rect x="530.6" y="413" width="1.8" height="15.2" fill="#c9a064"/><rect x="532.8" y="413.6" width="1.8" height="14.6" fill="#dcb679"/><rect x="535" y="413" width="1.8" height="15.2" fill="#c9a064"/><rect x="537.2" y="414" width="2.4" height="14.2" fill="#4f9a4a"/><rect x="540" y="415" width="2.4" height="13.2" fill="#2f9d95"/>
<rect x="543.4" y="418" width="2.2" height="10.6" fill="#3aa89a" transform="rotate(-14 544.5 428.2)"/>
</g>
<g>
<rect x="573.5" y="336.2" width="70.3" height="45.8" fill="#75503a"/>
<rect x="575" y="337.7" width="67.3" height="42.8" fill="#f2b63a"/>
<path d="M575,380.5 L642.3,337.7 V380.5 Z" fill="#eaa92c" opacity=".55"/>
<rect x="582" y="344.5" width="53" height="29.5" fill="#ef7d31"/>

<g clip-path="url(#cp)"><clipPath id="cp"><rect x="582" y="344.5" width="53" height="29.5"/></clipPath>
<path d="M582.00,350.40 L584.65,344.50 L587.30,350.40 Z" fill="#c9302f"/>
<path d="M587.30,350.40 L589.95,344.50 L592.60,350.40 Z" fill="#d9611f"/>
<path d="M589.95,344.50 L595.25,344.50 L592.60,350.40 Z" fill="#d9611f"/>
<path d="M592.60,350.40 L595.25,344.50 L597.90,350.40 Z" fill="#c9302f"/>
<path d="M597.90,350.40 L600.55,344.50 L603.20,350.40 Z" fill="#c9302f"/>
<path d="M603.20,350.40 L605.85,344.50 L608.50,350.40 Z" fill="#f7d49a"/>
<path d="M608.50,350.40 L611.15,344.50 L613.80,350.40 Z" fill="#f4a24a"/>
<path d="M611.15,344.50 L616.45,344.50 L613.80,350.40 Z" fill="#d9611f"/>
<path d="M613.80,350.40 L616.45,344.50 L619.10,350.40 Z" fill="#f7d49a"/>
<path d="M619.10,350.40 L621.75,344.50 L624.40,350.40 Z" fill="#c9302f"/>
<path d="M624.40,350.40 L627.05,344.50 L629.70,350.40 Z" fill="#c9302f"/>
<path d="M629.70,350.40 L632.35,344.50 L635.00,350.40 Z" fill="#d9611f"/>
<path d="M632.35,344.50 L637.65,344.50 L635.00,350.40 Z" fill="#d9611f"/>
<path d="M635.00,350.40 L637.65,344.50 L640.30,350.40 Z" fill="#c9302f"/>
<path d="M579.35,356.30 L582.00,350.40 L584.65,356.30 Z" fill="#d9611f"/>
<path d="M582.00,350.40 L587.30,350.40 L584.65,356.30 Z" fill="#d9611f"/>
<path d="M584.65,356.30 L587.30,350.40 L589.95,356.30 Z" fill="#c9302f"/>
<path d="M589.95,356.30 L592.60,350.40 L595.25,356.30 Z" fill="#d9611f"/>
<path d="M595.25,356.30 L597.90,350.40 L600.55,356.30 Z" fill="#c9302f"/>
<path d="M600.55,356.30 L603.20,350.40 L605.85,356.30 Z" fill="#c9302f"/>
<path d="M603.20,350.40 L608.50,350.40 L605.85,356.30 Z" fill="#d9611f"/>
<path d="M605.85,356.30 L608.50,350.40 L611.15,356.30 Z" fill="#f7d49a"/>
<path d="M611.15,356.30 L613.80,350.40 L616.45,356.30 Z" fill="#f4a24a"/>
<path d="M616.45,356.30 L619.10,350.40 L621.75,356.30 Z" fill="#f7d49a"/>
<path d="M621.75,356.30 L624.40,350.40 L627.05,356.30 Z" fill="#c9302f"/>
<path d="M624.40,350.40 L629.70,350.40 L627.05,356.30 Z" fill="#d9611f"/>
<path d="M627.05,356.30 L629.70,350.40 L632.35,356.30 Z" fill="#c9302f"/>
<path d="M632.35,356.30 L635.00,350.40 L637.65,356.30 Z" fill="#d9611f"/>
<path d="M582.00,362.20 L584.65,356.30 L587.30,362.20 Z" fill="#c9302f"/>
<path d="M587.30,362.20 L589.95,356.30 L592.60,362.20 Z" fill="#d9611f"/>
<path d="M592.60,362.20 L595.25,356.30 L597.90,362.20 Z" fill="#c9302f"/>
<path d="M597.90,362.20 L600.55,356.30 L603.20,362.20 Z" fill="#d9611f"/>
<path d="M600.55,356.30 L605.85,356.30 L603.20,362.20 Z" fill="#d9611f"/>
<path d="M603.20,362.20 L605.85,356.30 L608.50,362.20 Z" fill="#c9302f"/>
<path d="M608.50,362.20 L611.15,356.30 L613.80,362.20 Z" fill="#c9302f"/>
<path d="M613.80,362.20 L616.45,356.30 L619.10,362.20 Z" fill="#f7d49a"/>
<path d="M619.10,362.20 L621.75,356.30 L624.40,362.20 Z" fill="#f4a24a"/>
<path d="M621.75,356.30 L627.05,356.30 L624.40,362.20 Z" fill="#d9611f"/>
<path d="M624.40,362.20 L627.05,356.30 L629.70,362.20 Z" fill="#f7d49a"/>
<path d="M629.70,362.20 L632.35,356.30 L635.00,362.20 Z" fill="#c9302f"/>
<path d="M635.00,362.20 L637.65,356.30 L640.30,362.20 Z" fill="#c9302f"/>
<path d="M579.35,368.10 L582.00,362.20 L584.65,368.10 Z" fill="#c9302f"/>
<path d="M584.65,368.10 L587.30,362.20 L589.95,368.10 Z" fill="#c9302f"/>
<path d="M589.95,368.10 L592.60,362.20 L595.25,368.10 Z" fill="#d9611f"/>
<path d="M592.60,362.20 L597.90,362.20 L595.25,368.10 Z" fill="#d9611f"/>
<path d="M595.25,368.10 L597.90,362.20 L600.55,368.10 Z" fill="#c9302f"/>
<path d="M600.55,368.10 L603.20,362.20 L605.85,368.10 Z" fill="#d9611f"/>
<path d="M605.85,368.10 L608.50,362.20 L611.15,368.10 Z" fill="#c9302f"/>
<path d="M611.15,368.10 L613.80,362.20 L616.45,368.10 Z" fill="#c9302f"/>
<path d="M613.80,362.20 L619.10,362.20 L616.45,368.10 Z" fill="#d9611f"/>
<path d="M616.45,368.10 L619.10,362.20 L621.75,368.10 Z" fill="#f7d49a"/>
<path d="M621.75,368.10 L624.40,362.20 L627.05,368.10 Z" fill="#f4a24a"/>
<path d="M627.05,368.10 L629.70,362.20 L632.35,368.10 Z" fill="#f7d49a"/>
<path d="M632.35,368.10 L635.00,362.20 L637.65,368.10 Z" fill="#c9302f"/>
<path d="M635.00,362.20 L640.30,362.20 L637.65,368.10 Z" fill="#d9611f"/>
<path d="M582.00,374.00 L584.65,368.10 L587.30,374.00 Z" fill="#f7d49a"/>
<path d="M587.30,374.00 L589.95,368.10 L592.60,374.00 Z" fill="#c9302f"/>
<path d="M589.95,368.10 L595.25,368.10 L592.60,374.00 Z" fill="#d9611f"/>
<path d="M592.60,374.00 L595.25,368.10 L597.90,374.00 Z" fill="#c9302f"/>
<path d="M597.90,374.00 L600.55,368.10 L603.20,374.00 Z" fill="#d9611f"/>
<path d="M603.20,374.00 L605.85,368.10 L608.50,374.00 Z" fill="#c9302f"/>
<path d="M608.50,374.00 L611.15,368.10 L613.80,374.00 Z" fill="#d9611f"/>
<path d="M611.15,368.10 L616.45,368.10 L613.80,374.00 Z" fill="#d9611f"/>
<path d="M613.80,374.00 L616.45,368.10 L619.10,374.00 Z" fill="#c9302f"/>
<path d="M619.10,374.00 L621.75,368.10 L624.40,374.00 Z" fill="#c9302f"/>
<path d="M624.40,374.00 L627.05,368.10 L629.70,374.00 Z" fill="#f7d49a"/>
<path d="M629.70,374.00 L632.35,368.10 L635.00,374.00 Z" fill="#f4a24a"/>
<path d="M632.35,368.10 L637.65,368.10 L635.00,374.00 Z" fill="#d9611f"/>
<path d="M635.00,374.00 L637.65,368.10 L640.30,374.00 Z" fill="#f7d49a"/>
<path d="M597.2,344.5 L598.8,350.4 L596.2,356.3 L598.8,362.2 L596.2,368.1 L598.8,374.0" fill="none" stroke="#f2b63a" stroke-width="0.9"/>
<path d="M620.2,344.5 L621.8,350.4 L619.2,356.3 L621.8,362.2 L619.2,368.1 L621.8,374.0" fill="none" stroke="#f2b63a" stroke-width="0.9"/>
</g></g>
<g>
<circle cx="682.5" cy="364.1" r="15.6" fill="#a3321a"/><circle cx="682.5" cy="364.1" r="13" fill="#fbf8f5"/><path d="M682.5,352.3 v1.4 M682.5,374.5 v1.4 M670.7,364.1 h1.4 M692.9,364.1 h1.4" stroke="#cfc6c0" stroke-width=".5"/>
<path d="M682.5,364.1 L674.8,359.7" stroke="#6a4a40" stroke-width="1" fill="none"/><path d="M682.5,364.1 L678.8,370.7" stroke="#9a8a84" stroke-width=".6" fill="none"/>
<circle cx="682.5" cy="364.1" r=".9" fill="#6a4a40"/>
</g>
<g>
<path d="M557.3,449 L565.6,449 L559.2,456.8 L556.4,456.8 Z M706,449 L697.7,449 L704.1,456.8 L706.9,456.8 Z" fill="#4a2b21"/>
<rect x="628" y="397" width="6" height="38" fill="#a55a25"/>
<path d="M558.6,399.5 Q558.6,396 562.1,396 H627 Q630.5,396 630.5,399.5 V436 H558.6 Z" fill="#b7672b"/>
<path d="M631.3,399.5 Q631.3,396 634.8,396 H700 Q703.5,396 703.5,399.5 V436 H631.3 Z" fill="#b7672b"/>
<rect x="561" y="412" width="27" height="20.6" fill="#7e3c23"/><path d="M579.7,413.6 H604.1 V432.6 H579.7 Z" fill="#8a4427"/>
<path d="M579.7,413.6 H588 V432.6 H579.7 Z" fill="#7a3920"/>
<rect x="659.3" y="414.3" width="25.7" height="18.3" fill="#7e3c23"/><path d="M672.6,410.5 H700.2 V432.6 H685 V414.3 H672.6 Z" fill="#8a4427"/>
<rect x="558" y="432.4" width="146" height="11" rx="2" fill="#c5722f"/>
<path d="M556,442.6 H706 V446 Q706,449.4 700,449.4 H562 Q556,449.4 556,446 Z" fill="#b3632a"/>
<path d="M545.2,416 C545.2,410.6 548.4,408.8 552.6,408.8 C557.4,408.8 560.4,411.2 560.4,416 V444 C560.4,447.6 559.6,449.4 556.6,449.4 C551.6,449.4 548.8,445 547.6,438 C546,430 545.2,423 545.2,416 Z" fill="#b0602a"/>
<path d="M718.2,416 C718.2,410.6 715,408.8 710.8,408.8 C706,408.8 703,411.2 703,416 V444 C703,447.6 703.8,449.4 706.8,449.4 C711.8,449.4 714.6,445 715.8,438 C717.4,430 718.2,423 718.2,416 Z" fill="#b0602a"/>
</g>
<g>
<path d="M596.4,446 H599.8 L596.4,467.4 H594.2 Z M603.6,446 H606.8 L603.2,464 H601.2 Z M677.8,446 H681 L683.6,464 H681.6 Z M684.8,446 H688.2 L690.6,467.4 H688.4 Z" fill="#5a3026"/>
<rect x="592.6" y="441.5" width="99.3" height="4.7" fill="#4d2b22"/><rect x="592.6" y="441.5" width="99.3" height="1.4" fill="#623a2e"/>
<path d="M632.9,436 H651.5 C651.5,439 648.5,441.5 645,441.5 H639.4 C635.9,441.5 632.9,439 632.9,436 Z" fill="#e6e1d8"/>
<path d="M642.2,436.2 L628,431.6 L637,432.4 L630.6,426.6 L639.4,431.4 L636.6,423.6 L641.6,430.6 L642.6,423 L643.6,430.6 L648.6,424 L645.4,431.6 L654,427.2 L647.6,432.6 L657,432 L642.2,436.2 Z" fill="#42833b"/>
<path d="M642.2,436.2 L633,430 L640,432.6 L639,426 L642.4,431.6 L646,426 L644.6,432.6 L652,430.4 Z" fill="#66a54c"/>
</g>
<!-- logo -->
<g fill="none" stroke="#2c3b3c" stroke-width="2.7" stroke-linecap="round">
<ellipse cx="46.5" cy="441.9" rx="3.9" ry="4.35"/><path d="M51.3,434 V446.3"/>
<ellipse cx="59.2" cy="441.9" rx="3.9" ry="4.35"/>
<path d="M67.6,446.3 V441.6 C67.6,436.2 73,436.2 73,441.6 V446.3 M73,441.6 C73,436.2 78.4,436.2 78.4,441.6 V446.3"/>
<ellipse cx="87.9" cy="441.9" rx="3.9" ry="4.35" stroke="#e8501e"/>
<path d="M96.7,446.3 V441.8 C96.7,436 103,436 103,441.8 V446.3"/>
<ellipse cx="111.2" cy="441.9" rx="3.7" ry="4.35"/><path d="M115.8,434 V446.3"/>
<ellipse cx="123.1" cy="441.9" rx="3.4" ry="4.35"/>
</g>
<path d="M80.4,447.9 C90,454.6 110,455.6 123.5,449.9 C110,458.6 90,458.2 80.4,447.9 Z" fill="#e8501e"/>
</svg></body></html>
